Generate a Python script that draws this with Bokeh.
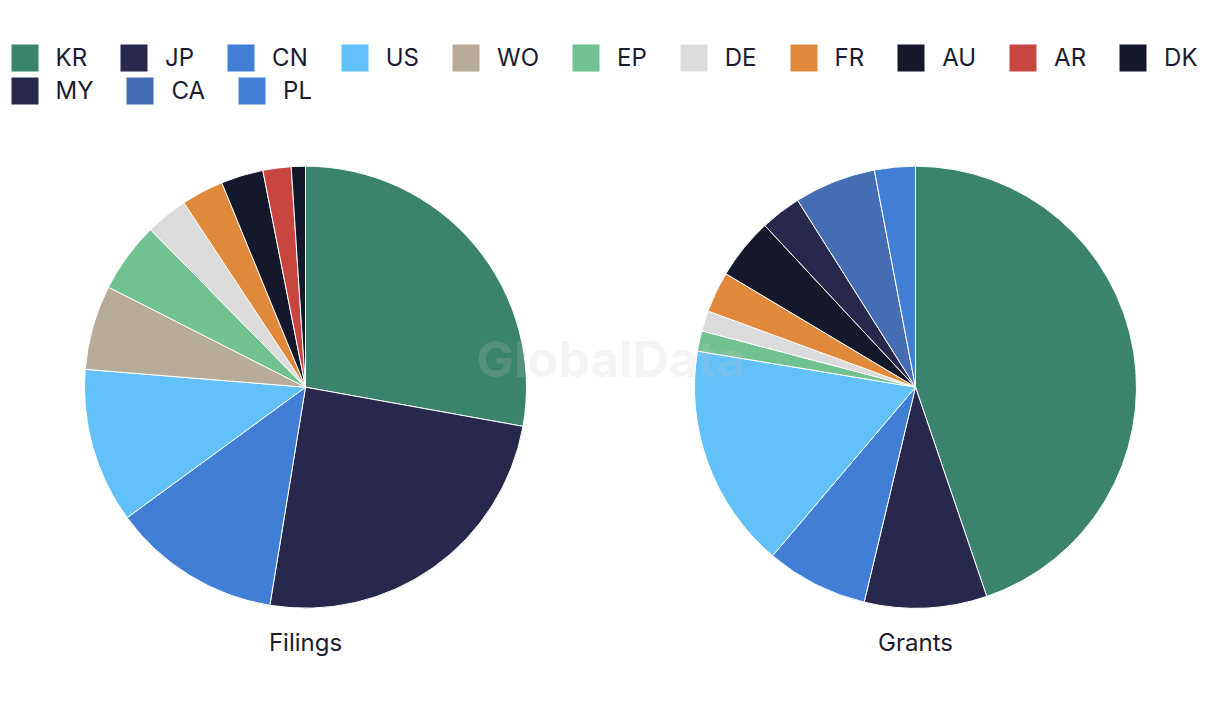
import numpy as np
from bokeh.plotting import figure
from bokeh.models import ColumnDataSource, Range1d, Legend, LegendItem
from bokeh.core.properties import value
from bokeh.embed import file_html
from bokeh.resources import INLINE

# ---- data ----
countries = ["KR", "JP", "CN", "US", "WO", "EP", "DE", "FR", "AU", "AR", "DK", "MY", "CA", "PL"]
country_colors = ["#3a836c", "#27284b", "#417ed6", "#62c1f8", "#b8ab97", "#71c291", "#dbdbdb",
                  "#e0893a", "#15172b", "#c94540", "#15172b", "#27284b", "#456db3", "#417ed6"]

charts = ["Filings", "Grants"]
filings_countries = ["KR", "JP", "CN", "US", "WO", "EP", "DE", "FR", "AU", "AR", "DK"]
filings_values = [27, 24, 12, 11, 6, 5, 3, 3, 3, 2, 1]
grants_countries = ["KR", "JP", "CN", "US", "EP", "DE", "FR", "AU", "MY", "CA", "PL"]
grants_values = [30, 6, 5, 11, 1, 1, 2, 3, 2, 4, 2]

# ---- layout (screen pixels, y measured from the top) ----
W, H = 1204, 704
TOP = 720
centers_x = [305, 915]
center_y = TOP - 386.7
radius = 221
label_y = TOP - 642

TEXT_COLOR = "#1b1c30"
FONT = "Inter"

p = figure(width=W, height=H, output_backend="svg", toolbar_location=None,
           x_range=Range1d(0, W), y_range=Range1d(TOP - H, TOP),
           min_border=0, x_axis_type=None, y_axis_type=None)
p.outline_line_color = None
p.grid.visible = False

# build per-country wedge data across both charts
rows = {c: dict(x=[], y=[], start=[], end=[], color=[], chart=[], val=[]) for c in countries}
for ci, (chart, cs, vs) in enumerate(zip(charts, [filings_countries, grants_countries],
                                         [filings_values, grants_values])):
    total = float(sum(vs))
    cum = np.concatenate([[0.0], np.cumsum(vs)]) / total
    for k, c in enumerate(cs):
        r = rows[c]
        r["x"].append(centers_x[ci])
        r["y"].append(center_y)
        r["start"].append(np.pi / 2 - 2 * np.pi * cum[k + 1])
        r["end"].append(np.pi / 2 - 2 * np.pi * cum[k])
        r["color"].append(country_colors[countries.index(c)])
        r["chart"].append(chart)
        r["val"].append(vs[k])

renderers = {}
for c in countries:
    src = ColumnDataSource(rows[c])
    renderers[c] = p.wedge(x="x", y="y", radius=radius, start_angle="start", end_angle="end",
                           fill_color="color", line_color="white", line_width=1, source=src)

# chart titles under pies
p.text(x=centers_x, y=[label_y] * 2, text=charts, text_align="center", text_baseline="middle",
       text_font=value(FONT), text_font_size="24px", text_color=TEXT_COLOR)

# watermark
p.text(x=[610.5], y=[TOP - 358.7], text=["GlobalData"], text_align="center",
       text_baseline="middle", text_font=value(FONT), text_font_style="bold",
       text_font_size="50px", text_color="#c8c8c8", text_alpha=0.2)

def make_legend(names, loc):
    lg = Legend(items=[LegendItem(label=n, renderers=[renderers[n]], index=0) for n in names],
                orientation="horizontal", location=loc, padding=0, margin=0, spacing=29,
                glyph_width=35, glyph_height=35, label_standoff=14,
                label_text_font=FONT, label_text_font_size="24px",
                label_text_color=TEXT_COLOR, label_text_baseline="middle",
                border_line_alpha=0, background_fill_alpha=0)
    return lg

p.add_layout(make_legend(countries[:11], (6.5, H - 74.5)), "center")
p.add_layout(make_legend(countries[11:], (6.5, H - 108.3)), "center")

open("out.html", "w").write(file_html(p, INLINE))
